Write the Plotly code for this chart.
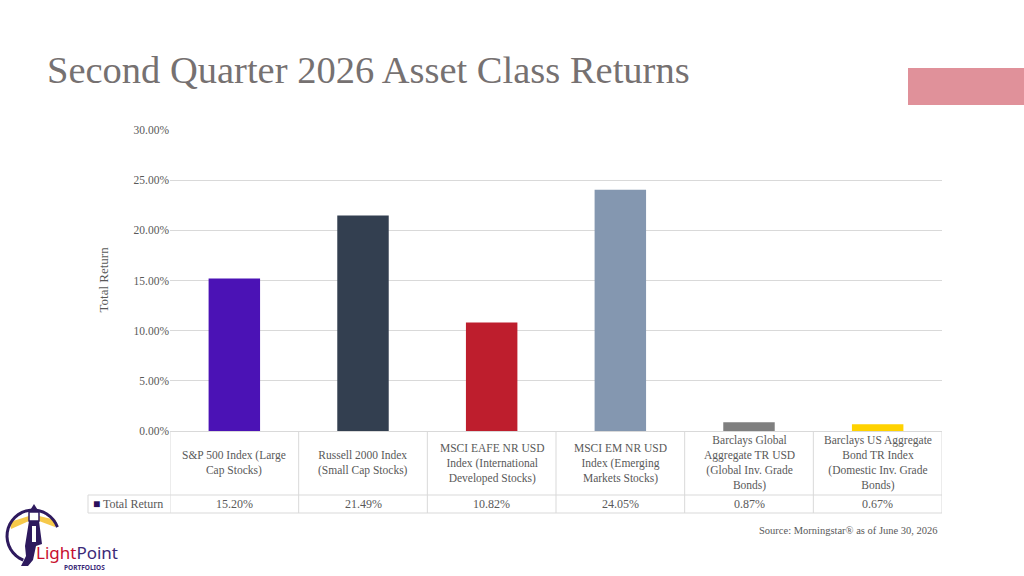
import math
import plotly.graph_objects as go

categories = [
    "S&P 500 Index (Large<br>Cap Stocks)",
    "Russell 2000 Index<br>(Small Cap Stocks)",
    "MSCI EAFE NR USD<br>Index (International<br>Developed Stocks)",
    "MSCI EM NR USD<br>Index (Emerging<br>Markets Stocks)",
    "Barclays Global<br>Aggregate TR USD<br>(Global Inv. Grade<br>Bonds)",
    "Barclays US Aggregate<br>Bond TR Index<br>(Domestic Inv. Grade<br>Bonds)",
]
total_return = [15.20, 21.49, 10.82, 24.05, 0.87, 0.67]
bar_colors = ["#4B12B5", "#333F50", "#BE1E2D", "#8497B0", "#7F7F7F", "#FFD200"]
series_name = "Total Return"
y_ticks = [0, 5, 10, 15, 20, 25, 30]

W, H = 1024, 576
L, R, T, B = 170, 942, 130, 431
PW, PH = R - L, B - T

def px(xp):
    return (xp - L) / PW

def py(yp):
    return (B - yp) / PH

SERIF = "Liberation Serif"
GRID = "#D9D9D9"
TXT = "#595959"
PURPLE = "#2E1A5E"

xs = list(range(len(categories)))
fig = go.Figure()
fig.add_trace(go.Bar(
    x=xs, y=[v / 100 for v in total_return],
    marker=dict(color=bar_colors, line=dict(width=0)),
    width=0.4, name=series_name, showlegend=False, hoverinfo="skip",
))

shapes = []
annotations = []

# table geometry
row1_bot = 495
row2_bot = 513
left_x = 88
line = dict(color=GRID, width=1)
shapes.append(dict(type="line", xref="paper", yref="paper", x0=px(left_x), x1=1, y0=py(row1_bot), y1=py(row1_bot), line=line))
shapes.append(dict(type="line", xref="paper", yref="paper", x0=px(left_x), x1=1, y0=py(row2_bot), y1=py(row2_bot), line=line))
shapes.append(dict(type="line", xref="paper", yref="paper", x0=px(left_x), x1=px(left_x), y0=py(row1_bot), y1=py(row2_bot), line=line))
for i in range(len(categories) + 1):
    shapes.append(dict(type="line", xref="x", yref="paper", x0=i - 0.5, x1=i - 0.5, y0=0, y1=py(row2_bot), line=line))

for i, (c, v) in enumerate(zip(categories, total_return)):
    annotations.append(dict(x=i, xref="x", y=py((B + row1_bot) / 2), yref="paper", text=c, showarrow=False,
                            font=dict(family=SERIF, size=11.5, color=TXT), align="center", yanchor="middle"))
    annotations.append(dict(x=i, xref="x", y=py((row1_bot + row2_bot) / 2), yref="paper", text=f"{v:.2f}%", showarrow=False,
                            font=dict(family=SERIF, size=12, color=TXT), yanchor="middle"))

annotations.append(dict(x=px(left_x + 3), xref="paper", y=py((row1_bot + row2_bot) / 2), yref="paper", xanchor="left",
                        text=f"<span style='color:#2A0F5C'>■</span> {series_name}", showarrow=False,
                        font=dict(family=SERIF, size=12, color=TXT), yanchor="middle"))

# y axis title
annotations.append(dict(x=px(93), xref="paper", y=py(280), yref="paper", text="Total Return", textangle=-90,
                        showarrow=False, font=dict(family=SERIF, size=13, color=TXT)))

# title
annotations.append(dict(x=px(45), xref="paper", y=py(47), yref="paper", xanchor="left", yanchor="top",
                        text="Second Quarter 2026 Asset Class Returns", showarrow=False,
                        font=dict(family=SERIF, size=38.5, color="#767171")))

# source
annotations.append(dict(x=px(940), xref="paper", y=py(530), yref="paper", xanchor="right", yanchor="middle",
                        text="Source: Morningstar® as of June 30, 2026", showarrow=False,
                        font=dict(family=SERIF, size=10.5, color=TXT)))

# red accent rectangle
shapes.append(dict(type="rect", xref="paper", yref="paper", x0=px(908), x1=px(1024), y0=py(68), y1=py(105),
                   fillcolor="#E0919A", line=dict(width=0)))

# logo (approximation)
def path_px(points, close=True):
    s = "M " + " L ".join(f"{px(a)},{py(b)}" for a, b in points)
    return s + (" Z" if close else "")

YEL = "#F6C94A"
shapes.append(dict(type="path", xref="paper", yref="paper",
                   path=path_px([(29, 516), (10, 522), (11, 529), (29, 521)]), fillcolor=YEL, line=dict(width=0)))
shapes.append(dict(type="path", xref="paper", yref="paper",
                   path=path_px([(39, 516), (56, 520), (55, 527), (39, 521)]), fillcolor=YEL, line=dict(width=0)))
pts = []
cx, cy, rr = 33, 536, 26
for k in range(0, 25):
    ang = math.radians(20 + k * 9.5)
    pts.append((cx + rr * math.cos(ang), cy - rr * math.sin(ang)))
shapes.append(dict(type="path", xref="paper", yref="paper", path=path_px(pts, close=False),
                   line=dict(color=PURPLE, width=3)))
# lighthouse body
shapes.append(dict(type="path", xref="paper", yref="paper",
                   path=path_px([(29, 521), (39, 521), (42, 544), (36, 546), (33, 560), (28, 566), (21, 566), (26, 556), (25, 546)]),
                   fillcolor=PURPLE, line=dict(width=0)))
shapes.append(dict(type="path", xref="paper", yref="paper",
                   path=path_px([(29, 512), (34, 504), (39, 512)]), fillcolor=PURPLE, line=dict(width=0)))
shapes.append(dict(type="rect", xref="paper", yref="paper", x0=px(29), x1=px(39), y0=py(512), y1=py(521),
                   fillcolor="#FFFFFF", line=dict(color=PURPLE, width=1.5)))
shapes.append(dict(type="rect", xref="paper", yref="paper", x0=px(32), x1=px(36), y0=py(526), y1=py(542),
                   fillcolor="#FFFFFF", line=dict(width=0)))

annotations.append(dict(x=px(35), xref="paper", y=py(565), yref="paper", xanchor="left", yanchor="bottom",
                        text="<span style='color:#C8102E'>Light</span><span style='color:#3B2A78'>Point</span>",
                        showarrow=False, font=dict(family="Noto Sans", size=17), borderpad=0))
annotations.append(dict(x=px(106), xref="paper", y=py(562), yref="paper", xanchor="right", yanchor="top",
                        text="<b>PORTFOLIOS</b>", showarrow=False, font=dict(family="Noto Sans", size=6.5, color="#3B2A78"),
                        borderpad=0))

fig.update_layout(
    width=W, height=H,
    margin=dict(l=L, r=W - R, t=T, b=H - B),
    paper_bgcolor="white", plot_bgcolor="white",
    xaxis=dict(range=[-0.5, len(categories) - 0.5], showticklabels=False, showgrid=False, zeroline=False,
               showline=False, ticks="", fixedrange=True),
    yaxis=dict(range=[0, 0.30], tickvals=[t / 100 for t in y_ticks], tickformat=".2%", showgrid=True,
               gridcolor=GRID, gridwidth=1, zeroline=True, zerolinecolor=GRID, zerolinewidth=1,
               tickfont=dict(family=SERIF, size=11.5, color=TXT), ticks="", showline=False, fixedrange=True),
    shapes=shapes, annotations=annotations,
    bargap=0.6, showlegend=False,
)

fig.write_html("out.html")
